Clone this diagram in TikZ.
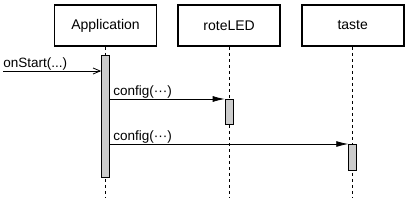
\documentclass[tikz,border=0pt]{standalone}
\usepackage{fontspec}
\setmainfont{Liberation Sans}
\usetikzlibrary{arrows.meta, positioning}
\tikzset{
  actor/.style={draw, line width=1.6pt, minimum width=102pt, minimum height=41pt,
                inner sep=0pt, font=\fontsize{14}{16}\selectfont},
  lifeline/.style={line width=0.8pt, dash pattern=on 3pt off 3pt},
  activation/.style={draw, line width=0.8pt, fill=gray!40, minimum width=8pt,
                     inner sep=0pt},
  msg/.style={line width=0.8pt, -{Latex[length=12pt,width=6pt]}},
  callmsg/.style={line width=0.8pt, -{Straight Barb[length=7pt,width=6pt]}},
  msglabel/.style={font=\fontsize{13.5}{15}\selectfont, inner sep=0pt,
                   anchor=base west, yshift=4pt},
}
\begin{document}
\begin{tikzpicture}[x=1pt, y=-1pt]
  \useasboundingbox (0,0) rectangle (408,207);

  \node[actor] (app) at (105.5,25.5) {Application};
  \node[actor, right=20pt of app] (led) {roteLED};
  \node[actor, right=20pt of led] (taste) {taste};

  % --- lifelines ---
  \coordinate (append) at (app.south |- 0,197);
  \coordinate (ledend) at (led.south |- 0,197);
  \coordinate (tasteend) at (taste.south |- 0,197);
  \draw[lifeline] (app.south) -- (append);
  \draw[lifeline] (led.south) -- (ledend);
  \draw[lifeline] (taste.south) -- (tasteend);

  % --- activations ---
  \node[activation, minimum height=122pt, anchor=north]
    (appbar) at (app.south |- 0,55) {};
  \node[activation, minimum height=25pt, anchor=north]
    (ledbar) at (led.south |- 0,99) {};
  \node[activation, minimum height=26pt, anchor=north]
    (tastebar) at (taste.south |- 0,144) {};

  % --- messages ---
  \coordinate (start) at (3,71);
  \draw[callmsg] (start) -- (start -| appbar.west)
    node[msglabel, pos=0] {onStart(...)};
  \draw[msg] (appbar.east |- ledbar.north) -- (ledbar.north west)
    node[msglabel, pos=0, xshift=3pt] {config(···)};
  \draw[msg] (appbar.east |- tastebar.north) -- (tastebar.north west)
    node[msglabel, pos=0, xshift=3pt] {config(···)};

\end{tikzpicture}
\end{document}
